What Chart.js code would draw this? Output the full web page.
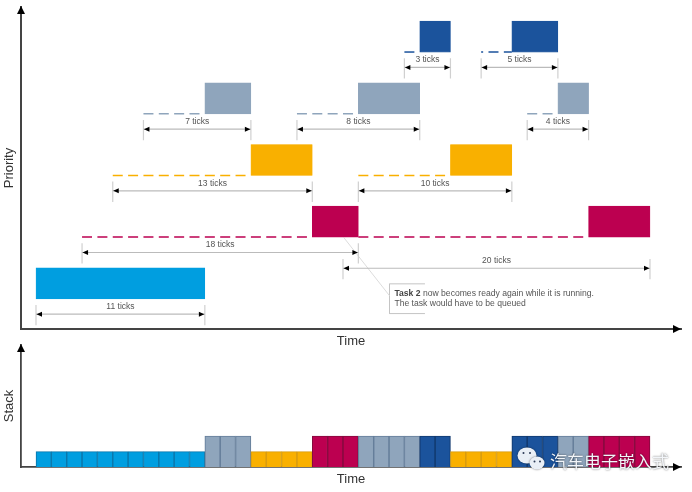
<!DOCTYPE html>
<html>
<head>
<meta charset="utf-8">
<style>
  html, body { margin: 0; padding: 0; background: #fff; }
  body { width: 692px; height: 492px; position: relative; overflow: hidden; }
  canvas { position: absolute; left: 0; }
  #priority { top: 0; }
  #stack { top: 340px; }
</style>
<script src="https://cdn.jsdelivr.net/npm/chart.js@4"></script>
</head>
<body>
<canvas id="priority" width="692" height="350"></canvas>
<canvas id="stack" width="692" height="152"></canvas>
<script>
// time is in ticks, priority level 0 is the idle/lowest row
const taskColors = ['#009ee0', '#bc0050', '#f9b000', '#8fa5bc', '#1b539c'];
const taskEdges = ['#0a78ad', '#860a3e', '#d89c10', '#667f9b', '#123a70'];

const runLevel = [0, 3, 2, 1, 3, 4, 2, 4, 3, 1];
const runStart = [0, 11, 14, 18, 21, 25, 27, 31, 34, 36];
const runEnd = [11, 14, 18, 21, 25, 27, 31, 34, 36, 40];

const waitLevel = [3, 3, 2, 2, 1, 1, 4, 4, 3];
const waitStart = [7, 17, 5, 21, 3, 21, 24, 29, 32];
const waitEnd = [11, 21, 14, 27, 18, 36, 25, 31, 34];
const waitPhase = [0, 0, 0, 0, 0, 0, 0, 8, 0];

const spanLabels = ['11 ticks', '18 ticks', '20 ticks', '13 ticks', '10 ticks', '7 ticks', '8 ticks', '4 ticks', '3 ticks', '5 ticks'];
const spanLevel = [0, 1, 0.745, 2, 2, 3, 3, 3, 4, 4];
const spanStart = [0, 3, 20, 5, 21, 7, 17, 32, 24, 29];
const spanEnd = [11, 21, 40, 18, 31, 14, 25, 36, 27, 34];

const stackTask = [0,0,0,0,0,0,0,0,0,0,0, 3,3,3, 2,2,2,2, 1,1,1, 3,3,3,3, 4,4, 2,2,2,2, 4,4,4, 3,3, 1,1,1,1];
const stackDepth = [1,1,1,1,1,1,1,1,1,1,1, 2,2,2, 1,1,1,1, 2,2,2, 2,2,2,2, 2,2, 1,1,1,1, 2,2,2, 2,2, 2,2,2,2];

const xMin = -0.977, xMax = 42.02;
const sans = '"Liberation Sans", Arial, sans-serif';

const axisArrows = {
  id: 'axisArrows',
  afterDraw(chart) {
    const { ctx, chartArea: a } = chart;
    ctx.save();
    ctx.fillStyle = '#000';
    ctx.beginPath();
    ctx.moveTo(a.left, a.top - 1);
    ctx.lineTo(a.left - 4, a.top + 7);
    ctx.lineTo(a.left + 4, a.top + 7);
    ctx.fill();
    ctx.beginPath();
    ctx.moveTo(a.right, a.bottom);
    ctx.lineTo(a.right - 8, a.bottom - 4);
    ctx.lineTo(a.right - 8, a.bottom + 4);
    ctx.fill();
    ctx.restore();
  }
};

function xAxis(padBottom, height, borderWidth) {
  return {
    type: 'linear', min: xMin, max: xMax, offset: false,
    ticks: { display: false },
    grid: { display: false },
    border: { color: '#444', width: borderWidth },
    title: { display: true, text: 'Time', color: '#333', font: { family: sans, size: 13 }, padding: { top: 0, bottom: padBottom } },
    afterFit(s) { s.height = height; }
  };
}

function yAxis(name, min, max, borderWidth) {
  return {
    type: 'linear', min, max, offset: false,
    ticks: { display: false },
    grid: { display: false },
    border: { color: '#444', width: borderWidth },
    title: { display: true, text: name, color: '#333', font: { family: sans, size: 13 }, padding: { top: 2, bottom: 0 } },
    afterFit(s) { s.width = 21; }
  };
}

const segment = (x0, y0, x1, y1, color, extra) => Object.assign({
  type: 'scatter', showLine: true, pointRadius: 0, borderColor: color, borderWidth: 1.2,
  data: [{ x: x0, y: y0 }, { x: x1, y: y1 }]
}, extra);

const priorityDatasets = [];
priorityDatasets.push({
  type: 'bar', indexAxis: 'y', barThickness: 31,
  data: runLevel.map((lv, i) => ({ y: lv, x: [runStart[i], runEnd[i]] })),
  backgroundColor: runLevel.map(lv => taskColors[lv]),
  borderColor: runLevel.map(lv => taskColors[lv]),
  borderWidth: 0.6, borderSkipped: false
});
waitLevel.forEach((lv, i) => {
  priorityDatasets.push(segment(waitStart[i], lv - 0.25, waitEnd[i], lv - 0.25, taskColors[lv], {
    borderWidth: 1.5, borderDash: [10, 5.35], borderDashOffset: waitPhase[i]
  }));
});
spanLevel.forEach((lv, i) => {
  priorityDatasets.push(segment(spanStart[i], lv - 0.5, spanEnd[i], lv - 0.5, '#bbbbbb'));
  priorityDatasets.push(segment(spanStart[i], lv - 0.35, spanStart[i], lv - 0.68, '#d0d0d0'));
  priorityDatasets.push(segment(spanEnd[i], lv - 0.35, spanEnd[i], lv - 0.68, '#d0d0d0'));
});
// callout for the note
priorityDatasets.push(segment(20.06, 0.74, 23.03, -0.2, '#dcdcdc', { borderWidth: 1 }));
priorityDatasets.push({
  type: 'scatter', showLine: true, pointRadius: 0, borderColor: '#c4c4c4', borderWidth: 1,
  data: [{ x: 25.34, y: -0.008 }, { x: 23.03, y: -0.008 }, { x: 23.03, y: -0.49 }, { x: 25.34, y: -0.49 }]
});

const spanMarks = {
  id: 'spanMarks',
  afterDatasetsDraw(chart) {
    const { ctx, scales: { x, y } } = chart;
    ctx.save();
    ctx.textAlign = 'center';
    ctx.textBaseline = 'middle';
    spanLevel.forEach((lv, i) => {
      const x0 = x.getPixelForValue(spanStart[i]);
      const x1 = x.getPixelForValue(spanEnd[i]);
      const py = y.getPixelForValue(lv - 0.5);
      ctx.fillStyle = '#000';
      ctx.beginPath();
      ctx.moveTo(x0 + 0.5, py);
      ctx.lineTo(x0 + 6, py - 2.5);
      ctx.lineTo(x0 + 6, py + 2.5);
      ctx.fill();
      ctx.beginPath();
      ctx.moveTo(x1 - 0.5, py);
      ctx.lineTo(x1 - 6, py - 2.5);
      ctx.lineTo(x1 - 6, py + 2.5);
      ctx.fill();
      ctx.fillStyle = '#555';
      ctx.font = '8.5px ' + sans;
      ctx.fillText(spanLabels[i], (x0 + x1) / 2, py - 7.5);
    });

    // note text
    const nx = x.getPixelForValue(23.35);
    ctx.textAlign = 'left';
    ctx.fillStyle = '#444';
    ctx.font = 'bold 8.6px ' + sans;
    ctx.fillText('Task 2', nx, y.getPixelForValue(-0.16));
    const boldWidth = ctx.measureText('Task 2 ').width;
    ctx.fillStyle = '#555';
    ctx.font = '8.6px ' + sans;
    ctx.fillText('now becomes ready again while it is running.', nx + boldWidth, y.getPixelForValue(-0.16));
    ctx.fillText('The task would have to be queued', nx, y.getPixelForValue(-0.33));
    ctx.restore();
  }
};

new Chart(document.getElementById('priority'), {
  type: 'bar',
  data: { datasets: priorityDatasets },
  options: {
    responsive: false,
    animation: false,
    layout: { padding: { left: 0, top: 7, right: 11, bottom: 0 } },
    plugins: { legend: { display: false }, tooltip: { enabled: false } },
    scales: { x: xAxis(1, 21, 2), y: yAxis('Priority', -0.74, 4.48, 2) }
  },
  plugins: [axisArrows, spanMarks]
});

const watermark = {
  id: 'watermark',
  afterDraw(chart) {
    const { ctx } = chart;
    ctx.save();
    ctx.shadowColor = 'rgba(0,0,0,0.55)';
    ctx.shadowBlur = 2;
    ctx.fillStyle = '#e9eff6';
    ctx.beginPath();
    ctx.ellipse(527, 115.5, 9.5, 8, 0, 0, Math.PI * 2);
    ctx.fill();
    ctx.beginPath();
    ctx.ellipse(537, 123, 7.5, 6.5, 0, 0, Math.PI * 2);
    ctx.fill();
    ctx.shadowBlur = 0;
    ctx.fillStyle = '#2b3a55';
    [[523.5, 113], [530, 113], [534.5, 121.5], [540, 121.5]].forEach(p => {
      ctx.beginPath();
      ctx.arc(p[0], p[1], 1, 0, Math.PI * 2);
      ctx.fill();
    });
    ctx.shadowColor = 'rgba(0,0,0,0.6)';
    ctx.shadowBlur = 2;
    ctx.fillStyle = '#f2f5f9';
    ctx.font = '17px "Noto Sans CJK SC"';
    ctx.textAlign = 'left';
    ctx.textBaseline = 'middle';
    ctx.fillText('汽车电子嵌入式', 550, 121.5);
    ctx.restore();
  }
};

new Chart(document.getElementById('stack'), {
  type: 'bar',
  data: {
    datasets: [{
      barThickness: 15.35,
      data: stackDepth.map((d, t) => ({ x: t + 0.5, y: d })),
      backgroundColor: stackTask.map(k => taskColors[k]),
      borderColor: stackTask.map(k => taskEdges[k]),
      borderWidth: 1.1
    }]
  },
  options: {
    responsive: false,
    animation: false,
    layout: { padding: { left: 0, top: 5, right: 11, bottom: 0 } },
    plugins: { legend: { display: false }, tooltip: { enabled: false } },
    scales: { x: xAxis(5, 25, 1.8), y: yAxis('Stack', 0, 7.87, 1.8) }
  },
  plugins: [axisArrows, watermark]
});
</script>
</body>
</html>
